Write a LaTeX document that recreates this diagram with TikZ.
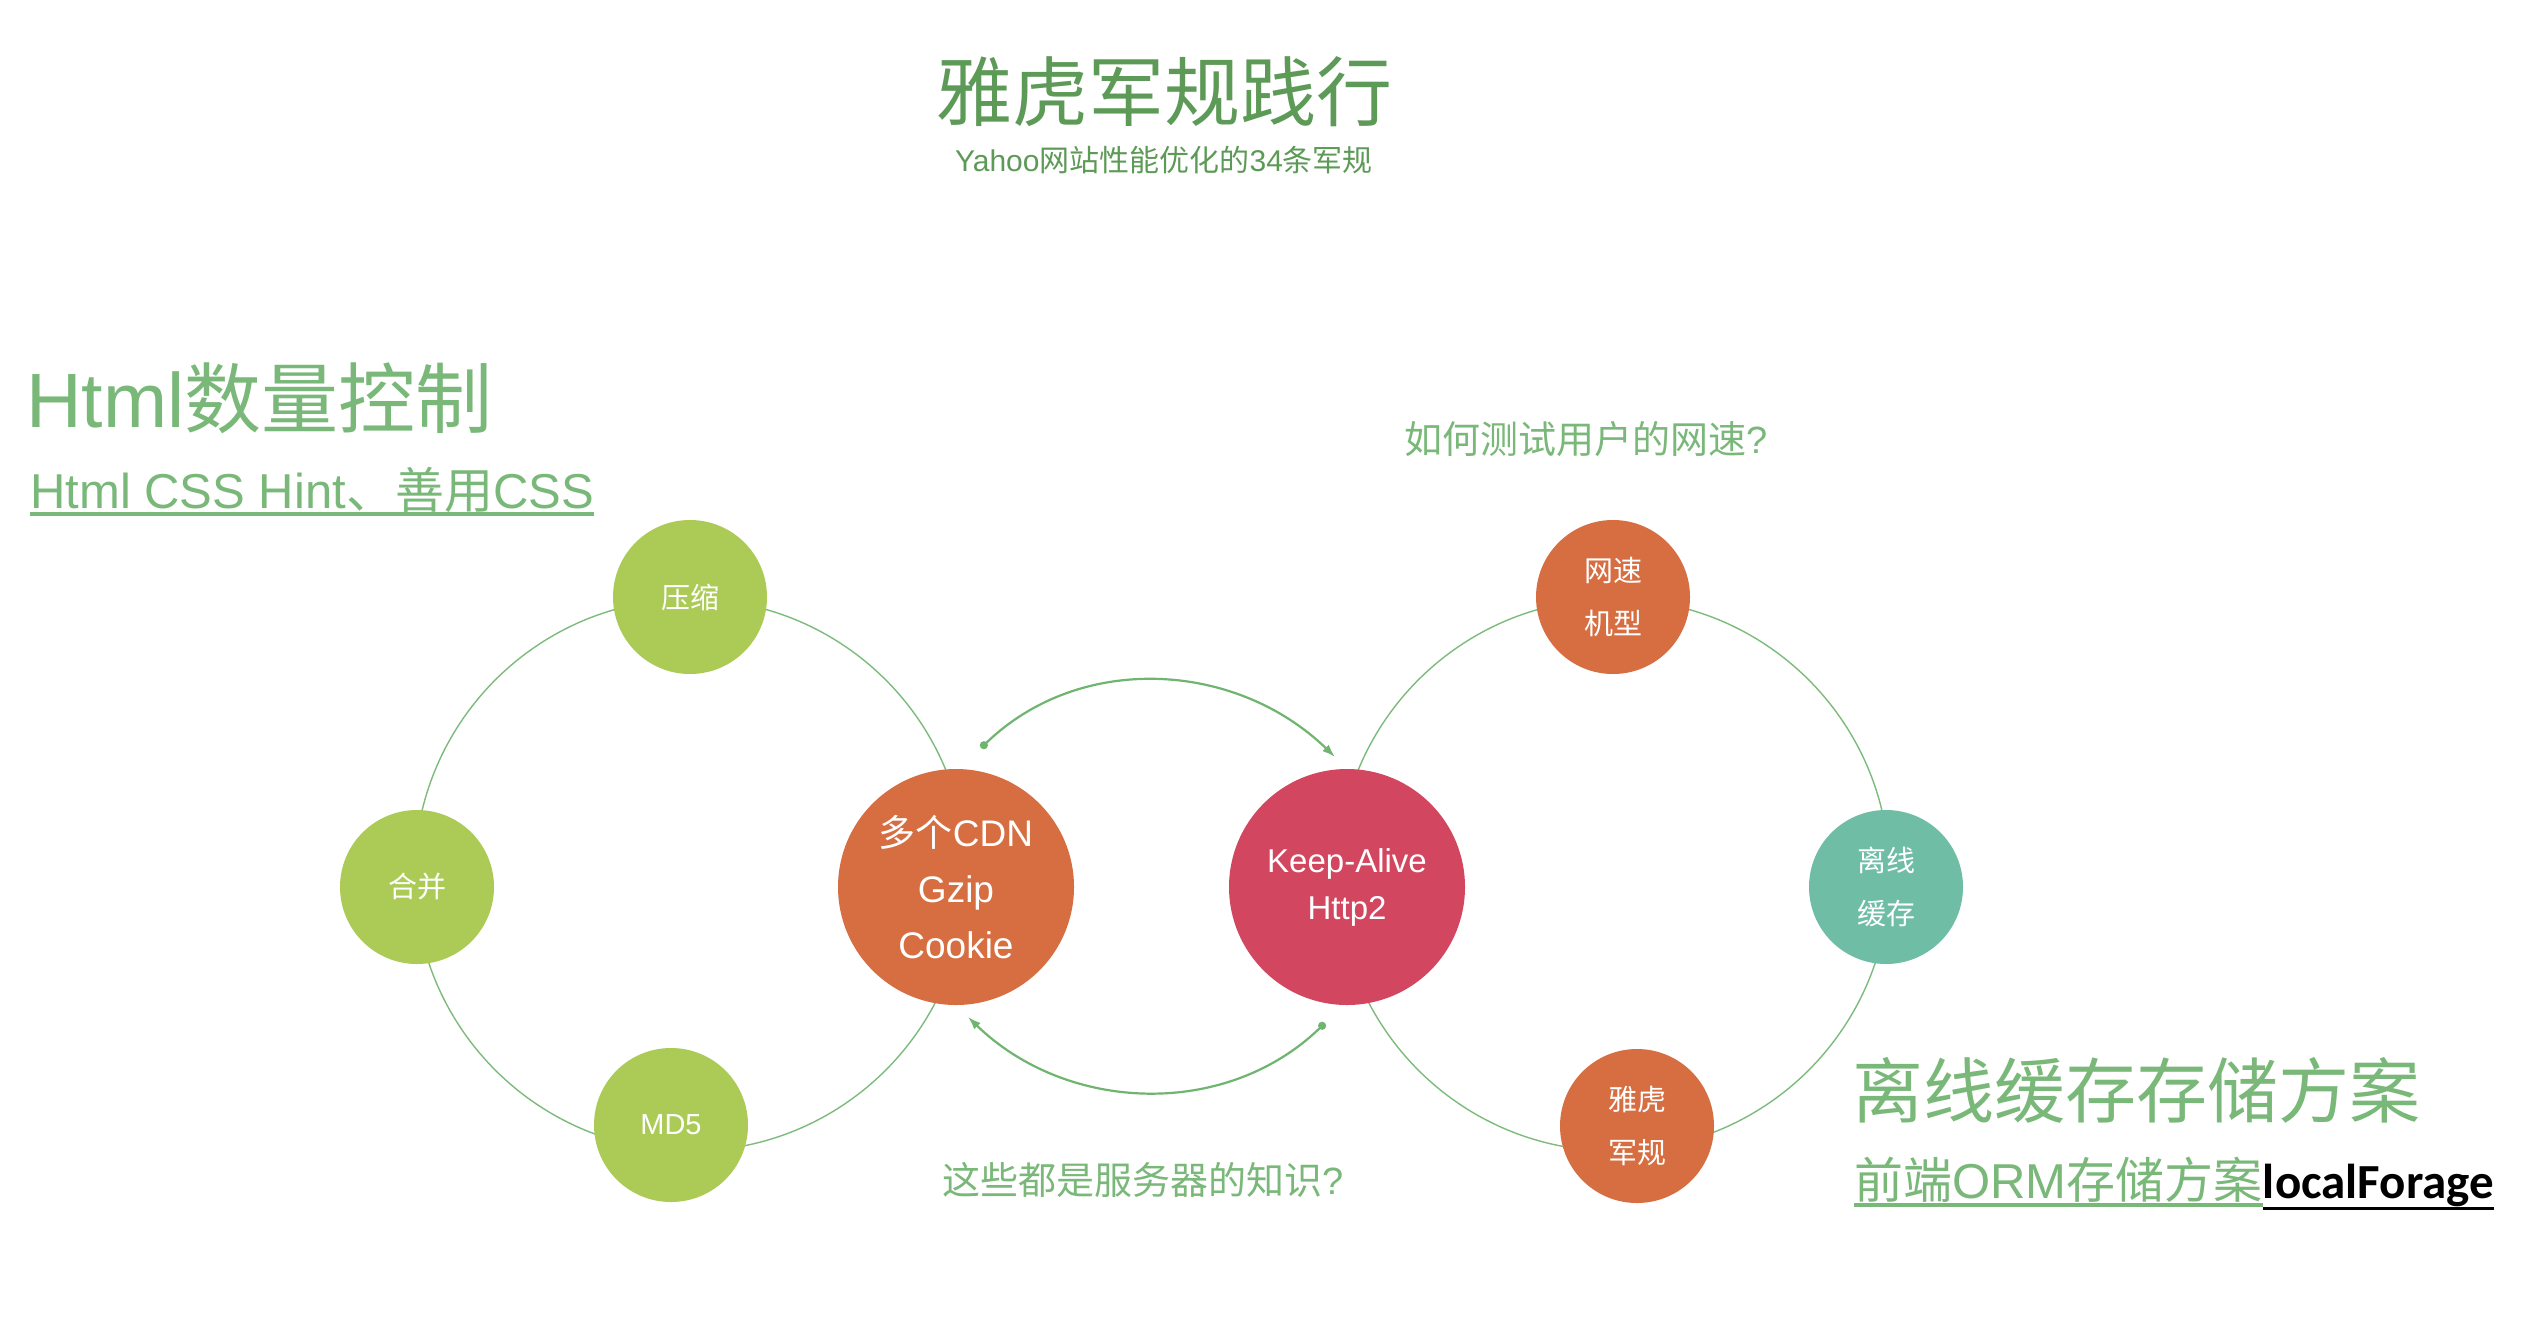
\documentclass[tikz,border=0pt]{standalone}
\usepackage{fontspec}
\setmainfont{Liberation Sans}
\newfontfamily\cjk{Noto Sans CJK SC}
\newfontfamily\carl{Carlito}
\usetikzlibrary{arrows.meta,shapes.geometric}
\newcommand\zh[1]{{\cjk #1}}
\definecolor{tgreen}{HTML}{5E9A57}
\definecolor{lgreen}{HTML}{79B879}
\definecolor{ringgreen}{HTML}{7DBB7D}
\definecolor{arcgreen}{HTML}{6FB46F}
\definecolor{lime}{HTML}{ABCB56}
\definecolor{corange}{HTML}{D66E41}
\definecolor{cred}{HTML}{D34660}
\definecolor{cteal}{HTML}{6EBDA4}
\tikzset{
  bubble/.style={circle, inner sep=0pt, minimum size=154pt, text=white, align=center},
  bigbubble/.style={circle, inner sep=0pt, minimum size=236pt, text=white, align=center},
  ring/.style={draw=ringgreen, line width=1.4pt},
  link/.style={draw=arcgreen, line width=2.2pt, {Circle[length=8pt]}-{Latex[length=13pt,width=9pt]}},
  lbl/.style={inner sep=0pt, text=lgreen},
  smalltxt/.style={font=\cjk\fontsize{29}{53}\selectfont},
}
\begin{document}
\begin{tikzpicture}[x=1pt,y=-1pt]
\useasboundingbox (0,0) rectangle (2524,1318);
\fill[white] (0,0) rectangle (2524,1318);

% titles
\node[lbl, text=tgreen, font=\cjk\fontsize{76}{90}\selectfont] (title) at (1164,92) {雅虎军规践行};
\node[lbl, text=tgreen, font=\fontsize{30}{36}\selectfont] (subtitle) at (1164,160) {Yahoo\zh{网站性能优化的}34\zh{条军规}};

% left texts
\node[lbl, anchor=west, font=\fontsize{77}{90}\selectfont] (html) at (26,398) {Html\zh{数量控制}};
\node[lbl, anchor=west, font=\fontsize{49}{58}\selectfont] (hint) at (30,490) {Html CSS Hint\zh{、善用}CSS};
\draw[lgreen, line width=3.5pt] ([yshift=-1pt]hint.south west) -- ([yshift=-1pt]hint.south east);

% questions
\node[lbl, anchor=west, font=\cjk\fontsize{38}{46}\selectfont] (speedq) at (1404,439) {如何测试用户的网速{\rmfamily ?}};
\node[lbl, anchor=west, font=\cjk\fontsize{38}{46}\selectfont] (serverq) at (942,1180) {这些都是服务器的知识{\rmfamily ?}};

% right texts
\node[lbl, anchor=west, font=\cjk\fontsize{71}{84}\selectfont] (offl) at (1852,1090) {离线缓存存储方案};
\node[lbl, anchor=west, font=\fontsize{49}{58}\selectfont] (orm) at (1854,1180) {\zh{前端}ORM\zh{存储方案}};
\node[inner sep=0pt, anchor=base west, text=black, font=\carl\bfseries\fontsize{49}{58}\selectfont] (lf) at (orm.base east) {localForage};
\draw[lgreen, line width=4pt] ([yshift=-2pt]orm.south west) -- ([yshift=-2pt]orm.south east);
\draw[black, line width=3pt] ([yshift=-1pt]lf.south west) -- ([yshift=-1pt]lf.south east);

% rings
\draw[ring] (690.5,875) circle[radius=276pt];
\draw[ring] (1613.5,875) circle[radius=276pt];

% left cluster
\node[bubble, fill=lime, smalltxt] (ys) at (690,597) {压缩};
\node[bubble, fill=lime, smalltxt] (hb) at (417,887) {合并};
\node[bubble, fill=lime, font=\fontsize{29}{53}\selectfont] (md5) at (671,1125) {MD5};
\node[bigbubble, fill=corange, font=\fontsize{37}{56}\selectfont] (cdn) at (956,887) {\zh{多个}CDN\\Gzip\\Cookie};

% right cluster
\node[bigbubble, fill=cred, font=\fontsize{33}{47}\selectfont] (ka) at (1347,887) {Keep-Alive\\Http2};
\node[bubble, fill=corange, smalltxt] (ws) at (1613,597) {网速\\机型};
\node[bubble, fill=cteal, smalltxt] (lx) at (1886,887) {离线\\缓存};
\node[bubble, fill=corange, smalltxt] (yh) at (1637,1126) {雅虎\\军规};

% connectors between the two hubs
\coordinate (u1) at (981,748);
\coordinate (u2) at (1335,757);
\draw[link] (u1) .. controls (1080,652) and (1236,661) .. (u2);
\coordinate (l1) at (1325,1023);
\coordinate (l2) at (968,1017);
\draw[link] (l1) .. controls (1226,1119) and (1067,1113) .. (l2);
\end{tikzpicture}
\end{document}
